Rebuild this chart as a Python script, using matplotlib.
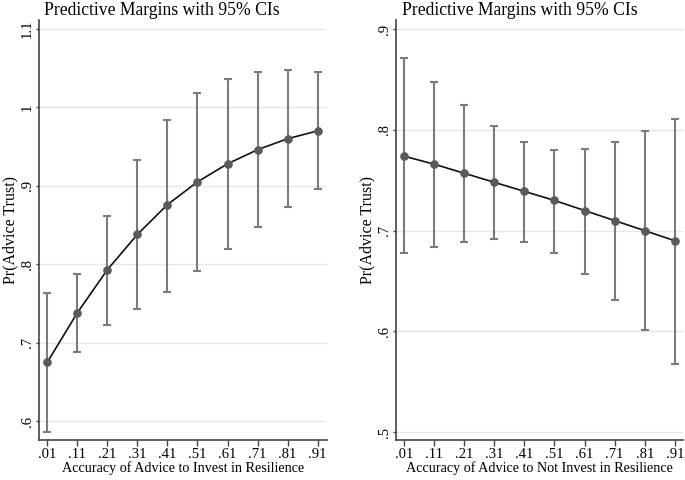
import numpy as np
import matplotlib
matplotlib.use('Agg')
from matplotlib import pyplot as plt

# accuracy levels (x) shared by both panels
accuracy = [0.01, 0.11, 0.21, 0.31, 0.41, 0.51, 0.61, 0.71, 0.81, 0.91]
tick_labels = ['.01', '.11', '.21', '.31', '.41', '.51', '.61', '.71', '.81', '.91']

# left panel: advice to invest in resilience
invest_margin = [0.675, 0.738, 0.793, 0.838, 0.876, 0.905, 0.928, 0.946, 0.960, 0.970]
invest_lo = [0.587, 0.688, 0.723, 0.743, 0.765, 0.792, 0.820, 0.847, 0.873, 0.896]
invest_hi = [0.764, 0.788, 0.861, 0.933, 0.984, 1.018, 1.036, 1.045, 1.047, 1.045]
invest_yticks = [0.6, 0.7, 0.8, 0.9, 1.0, 1.1]
invest_ylabels = ['.6', '.7', '.8', '.9', '1', '1.1']

# right panel: advice to not invest in resilience
noinv_margin = [0.774, 0.766, 0.757, 0.748, 0.739, 0.730, 0.720, 0.710, 0.700, 0.690]
noinv_lo = [0.678, 0.684, 0.689, 0.692, 0.689, 0.678, 0.657, 0.631, 0.601, 0.568]
noinv_hi = [0.871, 0.848, 0.825, 0.804, 0.788, 0.780, 0.781, 0.788, 0.799, 0.811]
noinv_yticks = [0.5, 0.6, 0.7, 0.8, 0.9]
noinv_ylabels = ['.5', '.6', '.7', '.8', '.9']

plt.rcParams['font.family'] = ['Liberation Serif', 'DejaVu Serif']

fig = plt.figure(figsize=(6.85, 4.8), dpi=100)
ax1 = fig.add_axes([0.057, 0.083, 0.420, 0.875])
ax2 = fig.add_axes([0.578, 0.083, 0.419, 0.875])


def panel(ax, m, lo, hi, yt, yl, ylim, xlabel, title_x):
    m = np.array(m)
    err = [m - np.array(lo), np.array(hi) - m]
    ax.errorbar(accuracy, m, yerr=err, fmt='none', ecolor='#7b7b7b',
                elinewidth=1.5, capsize=3, capthick=1.5, zorder=2)
    ax.plot(accuracy, m, '-', color='#111111', lw=1.2, zorder=3)
    ax.plot(accuracy, m, 'o', color='#5a5a5a', ms=5.2, zorder=4)
    ax.set_xlim(-0.017, 0.94)
    ax.set_ylim(*ylim)
    ax.set_xticks(accuracy)
    ax.set_xticklabels(tick_labels, fontsize=10.5)
    ax.set_yticks(yt)
    ax.set_yticklabels(yl, fontsize=10.5, rotation=90, va='center')
    ax.grid(axis='y', color='#e6e6e6', lw=1)
    ax.set_axisbelow(True)
    for s in ['top', 'right']:
        ax.spines[s].set_visible(False)
    for s in ['left', 'bottom']:
        ax.spines[s].set_color('#444444')
        ax.spines[s].set_linewidth(1.2)
    ax.tick_params(axis='x', direction='out', length=4, width=1, color='#444444', pad=2)
    ax.tick_params(axis='y', direction='out', length=2.5, width=1, color='#444444', pad=1)
    ax.set_xlabel(xlabel, fontsize=10.2, labelpad=0)
    ax.set_ylabel('Pr(Advice Trust)', fontsize=11.5, labelpad=2)
    ax.set_title('Predictive Margins with 95% CIs', fontsize=12.7, pad=4, x=title_x)


panel(ax1, invest_margin, invest_lo, invest_hi, invest_yticks, invest_ylabels,
      (0.576, 1.111), 'Accuracy of Advice to Invest in Resilience', 0.427)
panel(ax2, noinv_margin, noinv_lo, noinv_hi, noinv_yticks, noinv_ylabels,
      (0.492, 0.909), 'Accuracy of Advice to Not Invest in Resilience', 0.432)
ax2.set_xlim(-0.017, 0.937)

fig.savefig('out.png', dpi=100)
